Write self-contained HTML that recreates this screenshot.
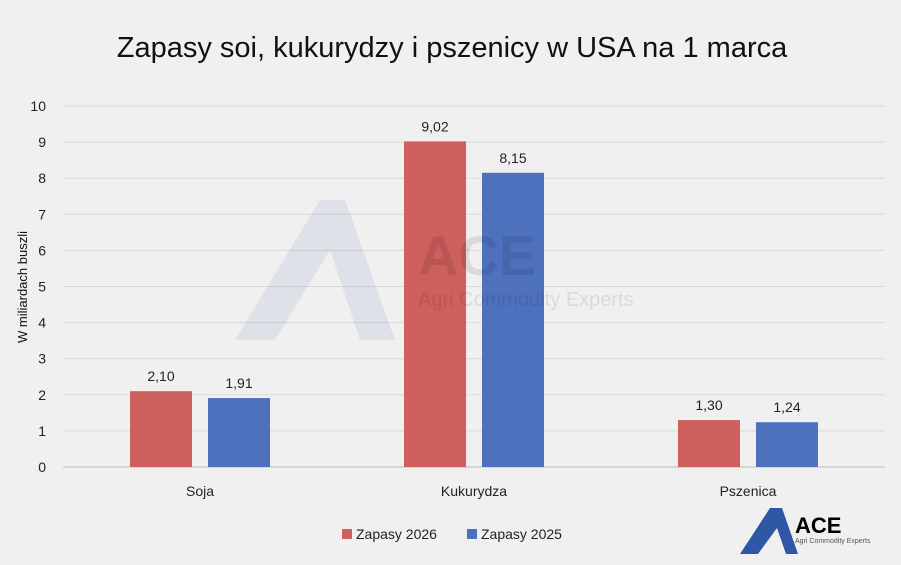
<!DOCTYPE html>
<html><head><meta charset="utf-8"><style>
body{margin:0;background:#f0f0f0;}
svg{display:block;font-family:"Liberation Sans",sans-serif;}
</style></head><body>
<svg id="c" width="901" height="565" viewBox="0 0 901 565">
<rect x="0" y="0" width="901" height="565" fill="#f0f0f0"/>
<text x="452" y="57" text-anchor="middle" font-size="29" fill="#111">Zapasy soi, kukurydzy i pszenicy w USA na 1 marca</text>
<g id="grid"></g><g id="bars"></g>
<g opacity="0.09">
<path d="M235 340 L320 200 L345 200 L395 340 L360 340 L330 250 L275 340 Z" fill="#2c4a8c"/>
<text x="418" y="275" font-size="56" font-weight="bold" fill="#000">ACE</text>
<text x="418" y="306" font-size="20" fill="#000">Agri Commodity Experts</text>
</g>
<text transform="translate(27,287) rotate(-90)" text-anchor="middle" font-size="13" fill="#111">W miliardach buszli</text>
<g>
<rect x="342" y="529" width="10" height="10" fill="#cd5f5c"/>
<text x="356" y="539" font-size="14" fill="#222">Zapasy 2026</text>
<rect x="467" y="529" width="10" height="10" fill="#4e71be"/>
<text x="481" y="539" font-size="14" fill="#222">Zapasy 2025</text>
</g>
<g>
<path d="M740 554 L770 508 L782 508 L798 554 L786 554 L777 528 L758 554 Z" fill="#2e57a5"/>
<text x="795" y="533" font-size="22" font-weight="bold" fill="#000">ACE</text>
<text x="795" y="543" font-size="7" fill="#555">Agri Commodity Experts</text>
</g>
</svg>
<script>
const categories=["Soja","Kukurydza","Pszenica"];
const values2026=[2.10,9.02,1.30];
const values2025=[1.91,8.15,1.24];
const yTicks=[0,1,2,3,4,5,6,7,8,9,10];
const NS="http://www.w3.org/2000/svg";
const x0=63,x1=885,yb=467,yt=106,ymax=10;
const y=v=>yb-(yb-yt)*v/ymax;
const bw=(x1-x0)/categories.length;
const cx=i=>x0+bw*(i+0.5);
function mk(p,t,a){const e=document.createElementNS(NS,t);for(const k in a)e.setAttribute(k,a[k]);p.appendChild(e);return e;}
const g=document.getElementById('grid'),b=document.getElementById('bars');
yTicks.forEach(t=>{
 const l=mk(g,'line',{x1:x0,x2:x1,y1:y(t),y2:y(t),stroke:t===0?'#bbb':'#d9d9d9','stroke-width':1});
 
 
 const tx=mk(g,'text',{x:46,y:y(t)+5,'text-anchor':'end','font-size':14,fill:'#222'});tx.textContent=t;
 
 
});
const fmt=v=>v.toFixed(2).replace('.',',');
categories.forEach((c,i)=>{
 [[values2026[i],'#cd5f5c',-70,'bar-2026'],[values2025[i],'#4e71be',8,'bar-2025']].forEach(([v,col,off,n])=>{
  const r=mk(b,'rect',{x:cx(i)+off,y:y(v),width:62,height:yb-y(v),fill:col});
  
  
  const t=mk(b,'text',{x:cx(i)+off+31,y:y(v)-10,'text-anchor':'middle','font-size':14,fill:'#222'});t.textContent=fmt(v);
  
  
 });
 const t=mk(b,'text',{x:cx(i),y:496,'text-anchor':'middle','font-size':14,fill:'#222'});t.textContent=c;
 
 
});
</script>
</body></html>
